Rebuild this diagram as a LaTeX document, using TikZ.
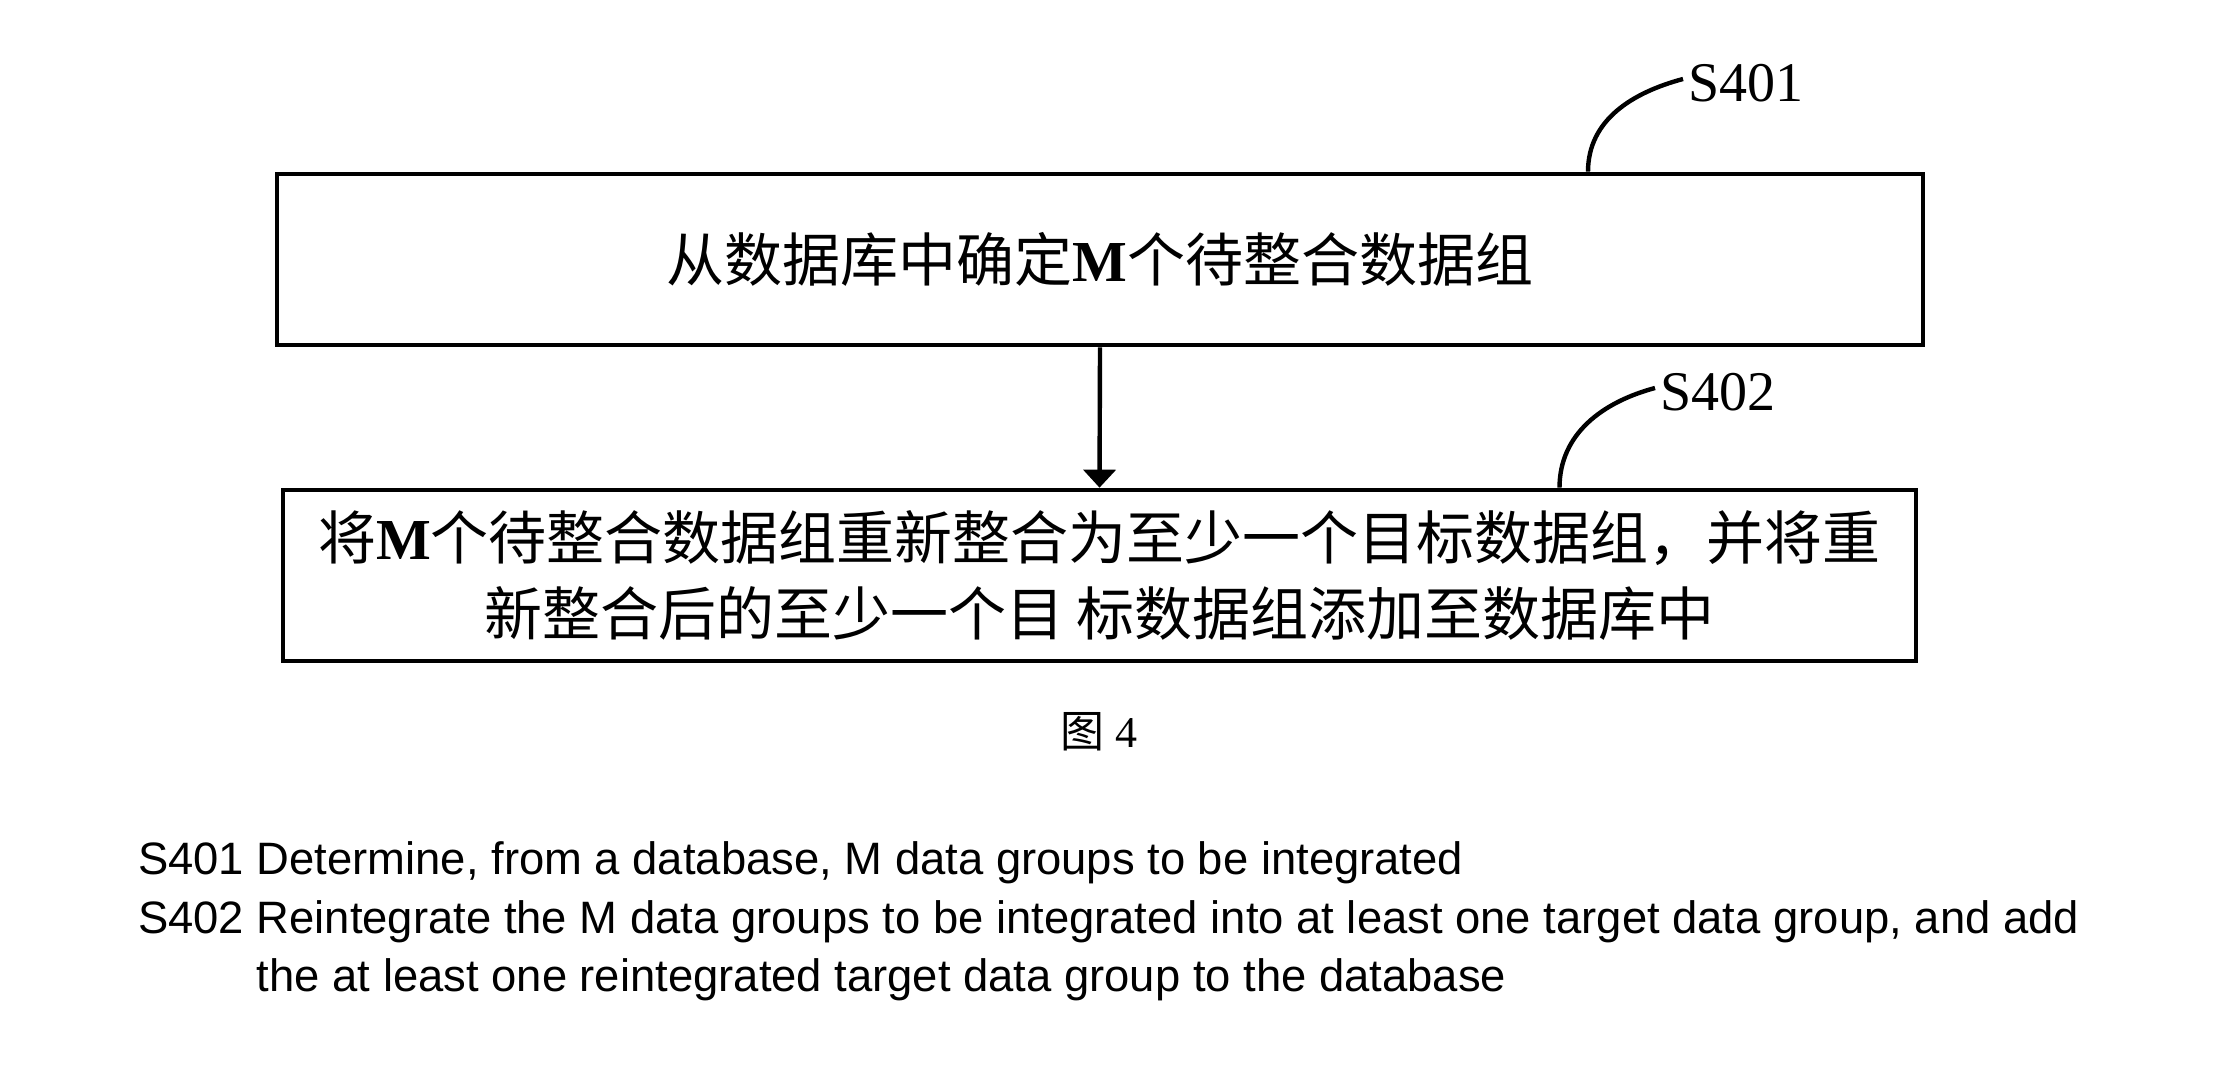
\documentclass[tikz,border=0pt]{standalone}
\usepackage{fontspec}
\setmainfont{Liberation Serif}
\setsansfont{Liberation Sans}
\newfontfamily\cjk{Noto Sans CJK SC}
\usetikzlibrary{arrows.meta}
\newcommand{\Mbold}{{\rmfamily\bfseries M}}
\tikzset{
    stepbox/.style={draw, line width=4.6pt, minimum height=171pt, inner sep=0pt,
        align=center, font=\cjk\fontsize{58}{76}\selectfont},
    steplabel/.style={anchor=west, inner sep=5pt, font=\fontsize{56}{60}\selectfont},
    leader/.style={line width=4.4pt},
    flow/.style={line width=4.4pt, -{Triangle[width=32pt,length=18pt]}}
}

\begin{document}
\begin{tikzpicture}[x=1pt,y=1pt]
    \useasboundingbox (0,0) rectangle (2215,1076);

    \node[stepbox, minimum width=1646pt] (find) at (1100,816.5)
        {从数据库中确定\Mbold 个待整合数据组};
    \node[stepbox, minimum width=1633pt] (merge) at (1099.5,500.5)
        {将\Mbold 个待整合数据组重新整合为至少一个目标数据组，并将重\\
         新整合后的至少一个目 标数据组添加至数据库中};

    \node[steplabel] (lab401) at (1683,993) {S401};
    \node[steplabel] (lab402) at (1655,684) {S402};

    \draw[flow] (find.south) -- (merge.north);
    \draw[leader] ([xshift=488pt]find.north) to[out=90,in=195] ([yshift=4pt]lab401.west);
    \draw[leader] ([xshift=460pt]merge.north) to[out=90,in=195] ([yshift=4pt]lab402.west);

    \node[font=\fontsize{44}{50}\selectfont] (figlabel) at (1099,344) {{\cjk 图} 4};

    \node[anchor=base west, inner sep=0pt, font=\sffamily\fontsize{45.4}{58.5}\selectfont] (legend) at (138,201)
        {\begin{tabular}[t]{@{}l@{ }l@{}}
            S401 & Determine, from a database, M data groups to be integrated\\
            S402 & Reintegrate the M data groups to be integrated into at least one target data group, and add\\
                 & the at least one reintegrated target data group to the database
        \end{tabular}};
\end{tikzpicture}
\end{document}
